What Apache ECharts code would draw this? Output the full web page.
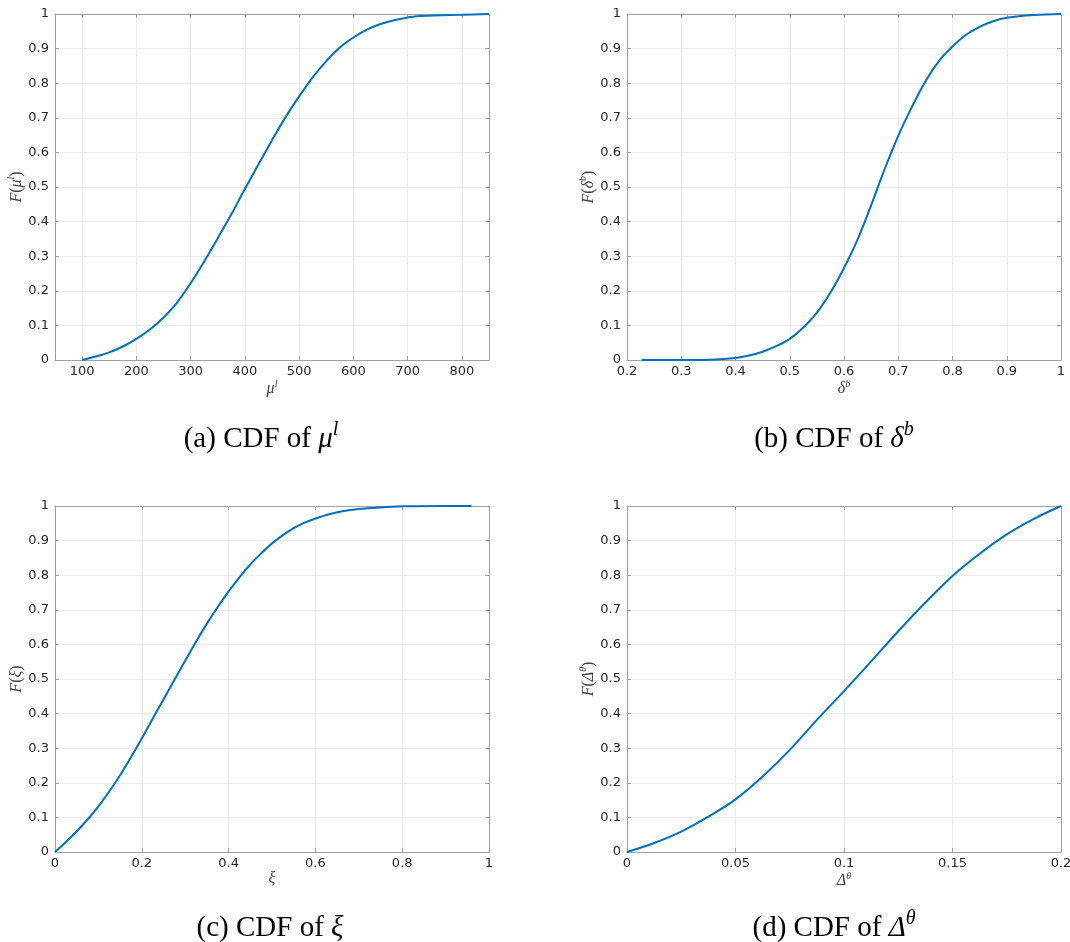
<!DOCTYPE html>
<html>
<head>
<meta charset="utf-8">
<script src="https://cdn.jsdelivr.net/npm/echarts@6/dist/echarts.min.js"></script>
<style>html,body{margin:0;padding:0;background:#fff}#c{width:1070px;height:942px}</style>
</head>
<body>
<div id="c"></div>
<script>
// ---- data ----
const muX = [100,125,150,175,200,225,250,275,300,325,350,375,400,425,450,475,500,525,550,575,600,625,650,675,700,725,750,800,850];
const muF = [0,0.01,0.022,0.039,0.061,0.088,0.123,0.166,0.222,0.285,0.352,0.421,0.494,0.565,0.635,0.702,0.762,0.817,0.864,0.903,0.932,0.955,0.971,0.982,0.99,0.994,0.996,0.998,1.0];

const deltaX = [0.227,0.3,0.35,0.4,0.425,0.45,0.475,0.5,0.525,0.55,0.575,0.6,0.625,0.65,0.675,0.7,0.725,0.75,0.775,0.8,0.825,0.85,0.875,0.9,0.95,1.0];
const deltaF = [0,0,0.001,0.006,0.013,0.024,0.04,0.061,0.094,0.137,0.195,0.266,0.348,0.447,0.552,0.648,0.731,0.805,0.864,0.906,0.94,0.963,0.979,0.989,0.997,1.0];

const xiX = [0,0.025,0.05,0.075,0.1,0.125,0.15,0.175,0.2,0.225,0.25,0.275,0.3,0.325,0.35,0.375,0.4,0.425,0.45,0.475,0.5,0.525,0.55,0.575,0.6,0.65,0.7,0.75,0.8,0.9,0.96];
const xiF = [0,0.029,0.06,0.094,0.132,0.175,0.222,0.274,0.328,0.385,0.441,0.497,0.553,0.608,0.66,0.708,0.753,0.794,0.831,0.863,0.892,0.916,0.936,0.952,0.964,0.982,0.991,0.996,0.999,1.0,1.0];

const dthX = [0,0.0125,0.025,0.0375,0.05,0.0625,0.075,0.0875,0.1,0.1125,0.125,0.1375,0.15,0.1625,0.175,0.1875,0.2];
const dthF = [0,0.026,0.059,0.102,0.152,0.218,0.295,0.382,0.465,0.551,0.638,0.721,0.798,0.862,0.918,0.963,1.0];

const muTicks = [100,200,300,400,500,600,700,800];

const captions = [
  {label:'(a) CDF of ', sym:'μ', sup:'l'},
  {label:'(b) CDF of ', sym:'δ', sup:'b'},
  {label:'(c) CDF of ', sym:'ξ', sup:''},
  {label:'(d) CDF of ', sym:'Δ', sup:'θ'}
];

// ---- styling ----
const LINE = '#0072BD';
const AX = '#a0a0a0';
const GRIDC = '#ebebeb';
const TXT = '#262626';
const SANS = 'DejaVu Sans';
const SERIF = 'Liberation Serif';

const grids = [
  {left:55, top:14, width:434, height:346},
  {left:627, top:14, width:434, height:346},
  {left:55, top:506, width:434, height:346},
  {left:627, top:506, width:434, height:346}
];

const mathRich = {
  i:{fontFamily:SERIF, fontStyle:'italic', fontSize:16, color:'#404040', lineHeight:18, verticalAlign:'bottom'},
  p:{fontFamily:SERIF, fontSize:16, color:'#404040', lineHeight:18, verticalAlign:'bottom'},
  s:{fontFamily:SERIF, fontStyle:'italic', fontSize:10, color:'#404040', lineHeight:18, verticalAlign:'top'}
};

function xName(sym, sup){ return '{i|'+sym+'}' + (sup ? '{s|'+sup+'}' : ''); }
function yName(sym, sup){ return '{i|F}{p|(}{i|'+sym+'}' + (sup ? '{s|'+sup+'}' : '') + '{p|)}'; }

const xCfg = [
  {min:50, max:850, custom:muTicks, name:xName('μ','l'), ynm:yName('μ','l')},
  {min:0.2, max:1, interval:0.1, name:xName('δ','b'), ynm:yName('δ','b')},
  {min:0, max:1, interval:0.2, name:xName('ξ',''), ynm:yName('ξ','')},
  {min:0, max:0.2, interval:0.05, name:xName('Δ','θ'), ynm:yName('Δ','θ')}
];
const seriesData = [[muX,muF],[deltaX,deltaF],[xiX,xiF],[dthX,dthF]];

const xAxes = [], yAxes = [], series = [];
xCfg.forEach((c, g) => {
  const base = {
    type:'value', gridIndex:g, min:c.min, max:c.max,
    axisLine:{show:true, onZero:false, lineStyle:{color:AX, width:1}},
    axisTick:{show:true, inside:true, length:4, lineStyle:{color:AX}},
  };
  if (c.interval) base.interval = c.interval;
  const bottom = Object.assign({}, base, {
    position:'bottom',
    name:c.name, nameLocation:'middle', nameGap:17,
    nameTextStyle:{rich:mathRich},
    axisLabel:{show:true, color:TXT, fontFamily:SANS, fontSize:13, margin:5},
    splitLine:{show:true, lineStyle:{color:GRIDC, width:1}}
  });
  if (c.custom) {
    bottom.axisLabel.customValues = c.custom;
    bottom.axisTick = Object.assign({}, bottom.axisTick, {customValues:c.custom});
  }
  const top = Object.assign({}, base, {
    position:'top', axisLabel:{show:false}, splitLine:{show:false}
  });
  if (c.custom) top.axisTick = Object.assign({}, top.axisTick, {customValues:c.custom});
  xAxes.push(bottom, top);

  const ybase = {
    type:'value', gridIndex:g, min:0, max:1, interval:0.1,
    axisLine:{show:true, onZero:false, lineStyle:{color:AX, width:1}},
    axisTick:{show:true, inside:true, length:4, lineStyle:{color:AX}}
  };
  yAxes.push(Object.assign({}, ybase, {
    position:'left',
    name:c.ynm, nameLocation:'middle', nameGap:28, nameRotate:90,
    nameTextStyle:{rich:mathRich},
    axisLabel:{show:true, color:TXT, fontFamily:SANS, fontSize:13, margin:6},
    splitLine:{show:true, lineStyle:{color:GRIDC, width:1}}
  }));
  yAxes.push(Object.assign({}, ybase, {position:'right', axisLabel:{show:false}, splitLine:{show:false}}));

  const [xs, ys] = seriesData[g];
  series.push({
    type:'line', xAxisIndex:2*g, yAxisIndex:2*g,
    data: xs.map((x,i)=>[x, ys[i]]),
    showSymbol:false, symbol:'none', smooth:0.35,
    lineStyle:{color:LINE, width:2}, clip:true, z:5
  });
});

const capPos = [[261,437],[834,437],[270,926],[834,926]];
const graphic = captions.map((c, i) => ({
  type:'text', x:capPos[i][0], y:capPos[i][1],
  style:{
    text:'{n|'+c.label+'}{m|'+c.sym+'}' + (c.sup ? '{s|'+c.sup+'}' : ''),
    align:'center', verticalAlign:'middle',
    rich:{
      n:{fontFamily:SERIF, fontSize:29, color:'#111', lineHeight:34, verticalAlign:'bottom'},
      m:{fontFamily:SERIF, fontStyle:'italic', fontSize:29, color:'#111', lineHeight:34, verticalAlign:'bottom'},
      s:{fontFamily:SERIF, fontStyle:'italic', fontSize:20, color:'#111', lineHeight:22, verticalAlign:'top'}
    }
  }
}));

const chart = echarts.init(document.getElementById('c'), null, {renderer:'canvas'});
chart.setOption({
  animation:false,
  backgroundColor:'#fff',
  grid:grids.map(g=>Object.assign({containLabel:false, outerBoundsMode:'none'}, g)),
  xAxis:xAxes, yAxis:yAxes, series:series, graphic:graphic
});
</script>
</body>
</html>
